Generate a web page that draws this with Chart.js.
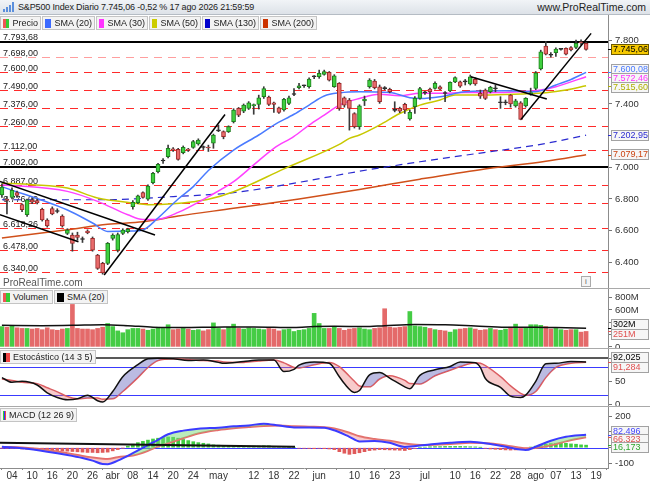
<!DOCTYPE html>
<html lang="es">
<head>
<meta charset="UTF-8">
<title>S&amp;P500 Index Diario</title>
<style>
  body { margin: 0; background: #fff; font-family: Arial, "Liberation Sans", sans-serif; }
  #wrap { position: relative; width: 650px; height: 483px; overflow: hidden; background: #fff; }
  canvas { position: absolute; left: 0; }
  #header {
    position: absolute; left: 0; top: 0; width: 650px; height: 15px; box-sizing: border-box;
    background: linear-gradient(#f1f4f7, #dde2e8); border-bottom: 1px solid #b5bcc4;
    line-height: 14px; color: #222;
  }
  #header .title { position: absolute; left: 18px; top: 0; font-size: 9px; letter-spacing: -0.15px; }
  #header .site { position: absolute; right: 4px; top: 0; font-size: 10.5px; }
  #header .ico { position: absolute; left: 3px; bottom: 2px; width: 2px; background: #5b8fdc; }
  .legend { position: absolute; left: 0; display: flex; font-size: 9px; color: #222; }
  .legend span {
    display: flex; align-items: center; height: 14px; box-sizing: border-box;
    border: 1px solid #c4c4c4; background: #f3f3f3; padding: 0 2px; margin-right: 1px; white-space: nowrap;
  }
  .legend i { display: inline-block; width: 7px; height: 9px; margin-right: 3px; }
  .sep { position: absolute; left: 0; width: 650px; height: 1px; background: #a9a9a9; }
  .wm { position: absolute; left: 3px; top: 277px; font-size: 10px; color: #555; }
  .info { position: absolute; left: 581px; top: 276px; width: 8px; height: 9px; border: 1px solid #aaa;
          font-size: 8px; line-height: 9px; text-align: center; color: #666; background: #f4f4f4; }
</style>
<script src="https://cdn.jsdelivr.net/npm/chart.js"></script>
</head>
<body>
<div id="wrap">
  <div id="header">
    <div class="ico" style="left:3px;height:3px"></div>
    <div class="ico" style="left:6px;height:5px"></div>
    <div class="ico" style="left:9px;height:7px"></div>
    <div class="ico" style="left:12px;height:10px"></div>
    <span class="title">S&amp;P500 Index Diario 7.745,06 -0,52 % 17 ago 2026 21:59:59</span>
    <span class="site">www.ProRealTime.com</span>
  </div>

  <canvas id="cMain" width="650" height="273" style="top:15px"></canvas>
  <canvas id="cVol" width="650" height="59" style="top:289px"></canvas>
  <canvas id="cSto" width="650" height="57" style="top:349px"></canvas>
  <canvas id="cMacd" width="650" height="76" style="top:407px"></canvas>

  <div class="sep" style="top:288px"></div>
  <div class="sep" style="top:348px"></div>
  <div class="sep" style="top:406px"></div>

  <div class="legend" style="top:16px">
    <span style="width:41px"><i style="background:linear-gradient(90deg,#e55 50%,#3c3 50%)"></i>Precio</span>
    <span style="width:53px"><i style="background:#3d6bff"></i>SMA (20)</span>
    <span style="width:52px"><i style="background:#ff33ff"></i>SMA (30)</span>
    <span style="width:52px"><i style="background:#cccc00"></i>SMA (50)</span>
    <span style="width:57px"><i style="background:#0000cc"></i>SMA (130)</span>
    <span style="width:57px"><i style="background:#cc3300"></i>SMA (200)</span>
  </div>
  <div class="legend" style="top:290px">
    <span style="width:53px"><i style="background:linear-gradient(90deg,#e55 50%,#3c3 50%)"></i>Volumen</span>
    <span style="width:54px"><i style="background:#000"></i>SMA (20)</span>
  </div>
  <div class="legend" style="top:350px">
    <span style="width:96px"><i style="background:linear-gradient(90deg,#000 50%,#e44 50%)"></i>Estocástico (14 3 5)</span>
  </div>
  <div class="legend" style="top:408px">
    <span style="width:77px"><i style="background:linear-gradient(90deg,#3c3 33%,#33f 33%,#33f 66%,#e44 66%)"></i>MACD (12 26 9)</span>
  </div>

  <div class="wm">ProRealTime.com</div>
  <div class="info">i</div>
</div>

<script>
// daily candles, 2 mar .. 17 ago (index = trading day)
const open = [6825,6800,6810,6840,6765,6700,6795,6790,6735,6667,6740,6722,6692,6583,6572,6572,6545,6597,6551,6446,
  6393,6393,6551,6477,6583,6593,6751,6777,6840,6798,6903,6972,7040,7067,7115,7114,7093,7112,7126,7147,
  7126,7128,7152,7230,7225,7225,7288,7372,7355,7372,7390,7397,7446,7444,7408,7376,7362,7404,7460,7503,
  7515,7509,7572,7572,7587,7600,7509,7530,7439,7425,7340,7256,7420,7509,7545,7509,7499,7492,7362,7372,
  7397,7305,7383,7435,7470,7494,7498,7509,7467,7482,7540,7540,7541,7526,7555,7467,7488,7477,7498,7408,
  7408,7456,7387,7408,7387,7465,7498,7621,7766,7710,7724,7745,7751,7757,7757,7793,7783];
const high = [6895,6815,6870,6850,6770,6800,6805,6800,6742,6675,6750,6738,6700,6612,6585,6590,6560,6605,6560,6450,
  6400,6525,6580,6585,6612,6615,6790,6825,6845,6890,6968,7025,7055,7140,7125,7120,7135,7120,7170,7180,
  7135,7140,7210,7267,7230,7262,7370,7378,7400,7415,7400,7456,7509,7450,7412,7380,7435,7450,7498,7530,
  7520,7565,7580,7614,7614,7605,7585,7535,7445,7435,7345,7395,7450,7560,7555,7520,7510,7500,7414,7380,
  7405,7362,7446,7505,7480,7500,7540,7515,7478,7540,7572,7545,7555,7583,7565,7488,7495,7512,7520,7446,
  7425,7460,7430,7415,7440,7500,7605,7740,7795,7725,7755,7750,7755,7762,7804,7805,7790];
const low = [6810,6705,6800,6810,6720,6690,6770,6768,6660,6622,6700,6712,6622,6575,6470,6540,6525,6580,6470,6355,
  6325,6385,6540,6465,6575,6585,6735,6770,6805,6790,6895,6965,7025,7060,7100,7045,7085,7100,7120,7140,
  7112,7100,7120,7225,7180,7220,7280,7320,7345,7365,7335,7368,7435,7390,7347,7340,7355,7395,7452,7495,
  7505,7500,7560,7562,7582,7545,7505,7360,7380,7235,7248,7240,7390,7500,7495,7404,7490,7470,7350,7345,
  7340,7298,7340,7430,7460,7425,7494,7490,7414,7478,7535,7505,7520,7520,7518,7435,7428,7470,7477,7372,
  7395,7380,7380,7300,7380,7455,7490,7615,7710,7695,7700,7740,7710,7735,7750,7772,7740];
const close = [6875,6790,6855,6822,6732,6795,6780,6775,6668,6630,6705,6721,6629,6604,6519,6557,6544,6587,6477,6361,
  6332,6519,6572,6575,6604,6608,6778,6819,6810,6882,6962,7019,7042,7120,7110,7050,7126,7108,7162,7172,
  7125,7122,7204,7232,7194,7258,7362,7330,7393,7408,7396,7439,7498,7397,7397,7347,7429,7439,7461,7515,
  7516,7557,7573,7593,7604,7551,7578,7372,7393,7372,7256,7389,7430,7551,7503,7414,7497,7477,7360,7355,
  7362,7347,7435,7498,7472,7477,7530,7494,7466,7536,7566,7512,7540,7572,7526,7450,7435,7505,7496,7408,
  7410,7400,7420,7303,7435,7470,7597,7730,7715,7708,7747,7746,7715,7741,7783,7786,7745.06];
const volume = [330,320,340,310,300,300,290,300,280,310,280,270,290,300,690,300,290,290,280,300,
  320,380,330,260,230,280,300,300,290,270,290,320,300,360,280,290,300,290,270,280,
  260,280,390,300,280,320,370,300,290,310,300,290,280,300,290,260,280,290,250,270,
  280,300,545,380,300,300,320,300,270,290,300,310,290,280,300,310,620,320,310,320,
  330,575,340,330,320,300,280,270,260,240,280,290,300,310,290,270,280,300,280,270,
  290,320,370,300,310,360,360,350,330,290,300,280,270,280,280,240,251];

const sma20Idx = [0,13,18,21,26,28,31,35,38,41,46,51,54,58,61,64,67,71,77,81,83,87,92,100,106,110,113,116];
const sma20 = [6878,6730,6648,6595,6598,6604,6680,6800,6878,6980,7109,7204,7267,7335,7393,7450,7470,7477,7473,7440,7435,7446,7477,7484,7478,7520,7555,7600.08];
const sma30Idx = [0,13,19,25,28,31,35,41,46,50,54,58,61,64,67,71,75,79,83,87,92,96,103,107,110,116];
const sma30 = [6890,6848,6785,6700,6670,6672,6715,6815,6909,7015,7120,7195,7267,7330,7393,7435,7461,7452,7467,7467,7473,7471,7477,7488,7509,7572.46];
const sma50Idx = [0,6,13,19,26,29,34,38,41,46,56,67,69,71,75,79,83,87,90,96,103,108,112,116];
const sma50 = [6900,6890,6869,6806,6775,6764,6770,6783,6798,6846,6990,7145,7183,7204,7267,7340,7393,7425,7456,7456,7463,7471,7488,7515.6];
const sma130Idx = [0,20,34,46,59,71,83,95,107,116];
const sma130 = [6795,6795,6815,6840,6905,6975,7035,7090,7145,7202.95];
const sma200Idx = [0,13,21,28,35,46,59,71,83,95,108,116];
const sma200 = [6553,6606,6640,6656,6692,6741,6800,6860,6925,6985,7038,7079.17];
const volSmaIdx = [0,8,14,20,25,30,36,42,50,58,62,66,72,76,82,88,94,100,106,110,116];
const volSma = [350,345,350,360,345,320,315,320,325,315,330,335,330,345,365,360,340,320,320,315,302];

const stochIdx = [0,2,4,7,9,11,13,15,17,19,20,22,24,27,29,31,34,37,40,43,44,48,51,54,56,58,59,62,65,67,68,70,71,73,75,77,80,81,83,86,89,91,94,95,96,99,101,103,104,106,108,110,113,116];
const stochK = [58,48,50,42,25,15,10,12,20,8,5,28,60,86,99,100,99,95,96,91,89,93,96,96,71,76,85,92,89,60,45,26,30,64,69,57,38,34,63,75,82,92,90,80,56,37,18,15,20,50,88,89,93,92.025];
const stochD = [55,52,48,45,36,27,17,12,14,14,11,12,28,58,80,95,99,97,95,94,92,91,94,96,90,80,79,86,91,82,72,50,40,38,55,62,52,45,44,62,74,82,90,89,84,60,40,24,20,28,58,80,89,91.284];

const macdIdx = [0,4,9,13,16,18,20,21,23,26,29,31,33,36,39,43,46,49,52,55,58,61,64,66,69,71,74,77,80,84,89,93,97,101,103,104,106,109,112,116];
const macdLine = [6,-4,-25,-46,-65,-82,-103,-104,-82,-35,17,50,85,108,120,127,135,141,152,140,128,128,126,110,69,40,42,31,5,17,31,37,23,0,-12,-15,6,44,69,82.496];
const macdSignal = [5,2,-14,-35,-52,-62,-70,-72,-60,-50,-20,8,28,60,90,112,123,131,138,140,136,133,130,121,95,72,55,44,27,17,23,31,27,10,0,-4,-2,15,40,66.323];
const macdHist = [-2,-3,-4,-6,-8,-10,-12,-12,-14,-15,-16,-18,-20,-22,-24,-26,-28,-30,-30,-32,
  -30,-28,-20,-12,-2,10,22,32,40,48,55,60,64,68,66,60,52,45,38,32,
  28,24,18,16,14,12,12,10,10,10,10,10,12,12,8,6,4,2,0,-3,
  -4,-5,-6,-4,-6,-8,-12,-25,-35,-42,-38,-32,-25,-18,-15,-12,-13,-14,-15,-16,
  -18,-12,-5,0,4,6,7,7,8,8,8,8,7,6,5,2,-4,-8,-10,-12,
  -14,-15,-14,-12,-6,4,10,18,22,26,28,30,28,24,22,18,16.173];

// drawn levels and trend lines
const levelValues = [7793.68,7698,7600,7490,7376,7260,7112,7002,6887,6776,6618.26,6478,6340];
const trendLines = [[-0.4,6910,30.4,6572],[-0.4,6700,15.2,6530],[20.3,6320,44.3,7334],[93.1,7572,108.2,7431],[103.1,7303,117,7846]];
const macdTrend = [-0.4, 31, 58.2, 6];

const tickIdx = [2,6,10,14,18,22,26,30,34,38,43,50,54,58,63,70,74,78,84,90,94,98,102,106,110,114,118];
const tickLabels = ['04','10','16','20','26','abr','08','14','20','24','may','12','18','22','jun','10','16','23','jul','10','16','22','28','ago','07','13','19'];
const priceTicks = [6400,6600,6800,7000,7200,7400,7600,7800];

const FONT = 'Arial, "Liberation Sans", sans-serif';
const X_MIN = -0.38, X_MAX = 120.35;

function fmt(v, d) {
  const neg = v < 0;
  const [ip, dp] = Math.abs(v).toFixed(d).split('.');
  return (neg ? '-' : '') + ip.replace(/\B(?=(\d{3})+(?!\d))/g, '.') + (dp ? ',' + dp : '');
}
const pts = (xs, ys) => xs.map((x, k) => ({x: x, y: ys[k]}));
const days = open.map((_, i) => i);
const isUp = i => close[i] >= open[i];
const isDoji = i => Math.abs(close[i] - open[i]) < 4;

// horizontal lines behind the data
const hlines = {
  id: 'hlines',
  beforeDatasetsDraw(chart, args, opts) {
    const {ctx, chartArea: a} = chart;
    const y = chart.scales.y;
    ctx.save();
    ctx.beginPath(); ctx.rect(a.left, a.top, a.right - a.left, a.bottom - a.top); ctx.clip();
    (opts.lines || []).forEach(l => {
      const py = Math.round(y.getPixelForValue(l.v)) + (l.width === 1 ? 0.5 : 0);
      ctx.setLineDash(l.dash || []);
      ctx.strokeStyle = l.color; ctx.lineWidth = l.width;
      ctx.beginPath(); ctx.moveTo(a.left, py); ctx.lineTo(a.right, py); ctx.stroke();
      if (l.label) {
        ctx.setLineDash([]);
        ctx.fillStyle = '#222'; ctx.font = '9px ' + FONT; ctx.textBaseline = 'alphabetic';
        ctx.fillText(l.label, a.left + 3, py - 2);
      }
    });
    ctx.restore();
  }
};

// last-value boxes on the right axis
const badges = {
  id: 'badges',
  afterDraw(chart, args, opts) {
    const {ctx, chartArea: a} = chart;
    const y = chart.scales.y;
    const gap = opts.gap || 9, h = 11;
    const items = (opts.items || []).map(it => Object.assign({}, it, {py: y.getPixelForValue(it.v)}));
    items.sort((p, q) => p.py - q.py);
    items.forEach(it => { it.cy = it.py; });
    for (let k = 0; k < 30; k++) {
      for (let i = 0; i < items.length - 1; i++) {
        const d = items[i + 1].cy - items[i].cy;
        if (d < gap) { const s = (gap - d) / 2; items[i].cy -= s; items[i + 1].cy += s; }
      }
    }
    ctx.save();
    ctx.font = '9px ' + FONT; ctx.textBaseline = 'middle';
    items.forEach(it => {
      const ty = Math.round(it.py) + 0.5;
      ctx.strokeStyle = it.color; ctx.lineWidth = 1;
      ctx.beginPath(); ctx.moveTo(a.right, ty); ctx.lineTo(a.right + 3, ty); ctx.stroke();
      const top = Math.round(it.cy - h / 2);
      const x0 = a.right + 3, w = chart.width - x0 - 1;
      ctx.fillStyle = it.bg || '#f6f6f6'; ctx.fillRect(x0, top, w, h);
      ctx.strokeStyle = it.border || '#a2a2a2'; ctx.strokeRect(x0 + 0.5, top + 0.5, w - 1, h - 1);
      ctx.fillStyle = it.color; ctx.fillText(it.text, x0 + 2, top + h / 2 + 0.5);
    });
    ctx.restore();
  }
};

const xHidden = {type: 'linear', min: X_MIN, max: X_MAX, display: false, offset: false};

function rightAxis(min, max, ticks, fmtFn) {
  return {
    position: 'right', min: min, max: max,
    afterBuildTicks: s => { s.ticks = ticks.map(v => ({value: v})); },
    afterFit: s => { s.width = 42; s.paddingTop = 0; s.paddingBottom = 0; },
    ticks: {autoSkip: false, callback: fmtFn, color: '#333', font: {size: 9.5, family: FONT}, padding: 3},
    grid: {drawOnChartArea: false, tickLength: 4, color: '#777'},
    border: {color: '#8c8c8c'}
  };
}

function baseOptions(scales, pluginOpts) {
  return {
    responsive: false, animation: false, events: [],
    layout: {padding: 0},
    plugins: Object.assign({legend: {display: false}, tooltip: {enabled: false}}, pluginOpts),
    scales: scales
  };
}

const lineSet = (xs, ys, color, extra) => Object.assign({
  type: 'line', data: pts(xs, ys), borderColor: color, borderWidth: 1.5,
  pointRadius: 0, tension: 0.4, cubicInterpolationMode: 'monotone', fill: false, order: 20
}, extra || {});

// ---------- price panel ----------
const mainLines = levelValues.map(v => {
  const solid = (v === 7793.68 || v === 7002);
  return {
    v: v, label: fmt(v, 2),
    color: solid ? '#000' : (v === 7698 ? 'rgba(255,40,40,0.45)' : '#ff2a2a'),
    width: solid ? 2 : 1, dash: solid ? [] : [8, 6]
  };
});

new Chart(document.getElementById('cMain'), {
  type: 'bar',
  data: {datasets: [
    {data: days.map(i => ({x: i, y: [low[i], high[i]]})), backgroundColor: '#3a3a3a',
     barThickness: 1, grouped: false, order: 11},
    {data: days.map(i => ({x: i, y: [open[i], close[i]]})),
     backgroundColor: days.map(i => isDoji(i) ? '#333' : isUp(i) ? '#3fcf3f' : '#ea6b6b'),
     borderColor: days.map(i => isDoji(i) ? '#222' : isUp(i) ? '#1f7f1f' : '#9a2a2a'),
     borderWidth: 1, borderSkipped: false, barThickness: 4, minBarLength: 1, grouped: false, order: 10},
    lineSet(sma20Idx, sma20, '#4a7bff'),
    lineSet(sma30Idx, sma30, '#ff40ff'),
    lineSet(sma50Idx, sma50, '#c8c800'),
    lineSet(sma130Idx, sma130, '#2a2ad0', {borderDash: [7, 5], borderWidth: 1.2}),
    lineSet(sma200Idx, sma200, '#d0501a'),
    ...trendLines.map(t => ({type: 'line', data: [{x: t[0], y: t[1]}, {x: t[2], y: t[3]}],
      borderColor: '#000', borderWidth: 1.5, pointRadius: 0, order: 0}))
  ]},
  options: baseOptions(
    {x: xHidden, y: rightAxis(6237.5, 7962.1, priceTicks, v => fmt(v, 0))},
    {hlines: {lines: mainLines},
     badges: {gap: 9, items: [
       {v: close[close.length - 1], text: fmt(close[close.length - 1], 2), color: '#000', bg: '#f5c800', border: '#6b5800'},
       {v: sma20[sma20.length - 1], text: fmt(sma20[sma20.length - 1], 2), color: '#4a7bff'},
       {v: sma30[sma30.length - 1], text: fmt(sma30[sma30.length - 1], 2), color: '#ff33ff'},
       {v: sma50[sma50.length - 1], text: fmt(sma50[sma50.length - 1], 2), color: '#b0b000'},
       {v: sma130[sma130.length - 1], text: fmt(sma130[sma130.length - 1], 2), color: '#2a2ad0'},
       {v: sma200[sma200.length - 1], text: fmt(sma200[sma200.length - 1], 2), color: '#cc4411'}
     ]}}),
  plugins: [hlines, badges]
});

// ---------- volume panel ----------
new Chart(document.getElementById('cVol'), {
  type: 'bar',
  data: {datasets: [
    {data: days.map(i => ({x: i, y: volume[i]})),
     backgroundColor: days.map(i => isUp(i) ? '#45cc45' : '#e46a6a'),
     barThickness: 4, grouped: false, order: 5},
    lineSet(volSmaIdx, volSma, '#111', {order: 0})
  ]},
  options: baseOptions(
    {x: xHidden, y: rightAxis(-18, 941, [0, 200, 400, 600, 800], v => v === 0 ? '0' : v + 'M')},
    {badges: {gap: 10, items: [
      {v: volSma[volSma.length - 1], text: volSma[volSma.length - 1] + 'M', color: '#000'},
      {v: volume[volume.length - 1], text: volume[volume.length - 1] + 'M', color: '#e05050'}
    ]}}),
  plugins: [badges]
});

// ---------- stochastic panel ----------
new Chart(document.getElementById('cSto'), {
  type: 'line',
  data: {datasets: [
    {data: pts(stochIdx, stochK), borderColor: '#111', borderWidth: 1.5, pointRadius: 0,
     tension: 0.35, cubicInterpolationMode: 'monotone',
     fill: {target: 1, above: 'rgba(105,105,190,0.45)', below: 'rgba(235,125,125,0.4)'}},
    {data: pts(stochIdx, stochD), borderColor: '#e05a5a', borderWidth: 1.5, pointRadius: 0,
     tension: 0.35, cubicInterpolationMode: 'monotone', fill: false}
  ]},
  options: baseOptions(
    {x: xHidden, y: rightAxis(-3.5, 120, [0, 50, 100], v => String(v))},
    {hlines: {lines: [
      {v: 100, color: '#222', width: 1.5},
      {v: 80, color: '#3a3aff', width: 1},
      {v: 20, color: '#3a3aff', width: 1}
    ]},
     badges: {gap: 10, items: [
       {v: stochK[stochK.length - 1], text: fmt(stochK[stochK.length - 1], 3), color: '#000'},
       {v: stochD[stochD.length - 1], text: fmt(stochD[stochD.length - 1], 3), color: '#e05050'}
     ]}}),
  plugins: [hlines, badges]
});

// ---------- MACD panel with date axis ----------
new Chart(document.getElementById('cMacd'), {
  type: 'bar',
  data: {datasets: [
    {type: 'line', data: pts(macdIdx, macdLine), borderColor: '#3b3bff', borderWidth: 2, pointRadius: 0,
     tension: 0.35, cubicInterpolationMode: 'monotone', order: 1,
     fill: {target: 1, above: 'rgba(120,220,120,0.5)', below: 'rgba(240,140,140,0.45)'}},
    {type: 'line', data: pts(macdIdx, macdSignal), borderColor: '#e86a6a', borderWidth: 2, pointRadius: 0,
     tension: 0.35, cubicInterpolationMode: 'monotone', fill: false, order: 2},
    {data: days.map(i => ({x: i, y: macdHist[i]})),
     backgroundColor: days.map(i => macdHist[i] >= 0 ? '#3fcc3f' : '#e05a5a'),
     barThickness: 3, grouped: false, order: 3},
    {type: 'line', data: [{x: macdTrend[0], y: macdTrend[1]}, {x: macdTrend[2], y: macdTrend[3]}],
     borderColor: '#111', borderWidth: 2, pointRadius: 0, order: 0}
  ]},
  options: baseOptions(
    {x: {type: 'linear', min: X_MIN, max: X_MAX, offset: false, position: 'bottom',
         afterBuildTicks: s => { s.ticks = tickIdx.map(v => ({value: v})); },
         afterFit: s => { s.height = 15; s.paddingLeft = 0; s.paddingRight = 0; },
         ticks: {autoSkip: false, maxRotation: 0, callback: (v, i) => tickLabels[i],
                 color: '#333', font: {size: 10, family: FONT}, padding: 0},
         grid: {drawOnChartArea: false, tickLength: 2, color: '#888'},
         border: {color: '#8c8c8c'}},
     y: rightAxis(-128.5, 257.6, [-100, 0, 100, 200], v => String(v))},
    {hlines: {lines: [{v: 0, color: '#3b3bff', width: 1}]},
     badges: {gap: 8, items: [
       {v: macdLine[macdLine.length - 1], text: fmt(macdLine[macdLine.length - 1], 3), color: '#4444ff'},
       {v: macdSignal[macdSignal.length - 1], text: fmt(macdSignal[macdSignal.length - 1], 3), color: '#e05050'},
       {v: macdHist[macdHist.length - 1], text: fmt(macdHist[macdHist.length - 1], 3), color: '#2fa82f'}
     ]}}),
  plugins: [hlines, badges]
});
</script>
</body>
</html>
